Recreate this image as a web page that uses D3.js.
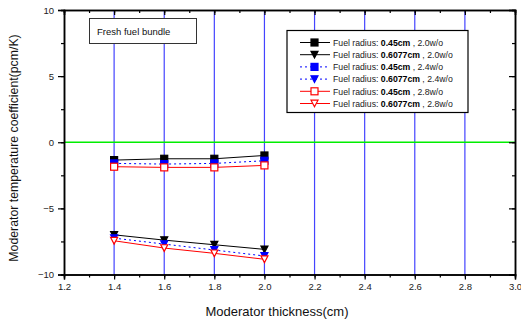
<!DOCTYPE html>
<html><head><meta charset="utf-8">
<script src="https://cdn.jsdelivr.net/npm/d3@7"></script>
<style>body{margin:0;background:#fff}svg{display:block}text{font-family:Arial,"Liberation Sans",sans-serif}</style>
</head><body><svg id="c" width="521" height="325"></svg>
<script>
const thickness = [1.4, 1.6, 1.8, 2.0];
const sq20 = [-1.35, -1.25, -1.25, -1.0];
const tri20 = [-7.0, -7.4, -7.75, -8.1];
const sq24 = [-1.6, -1.65, -1.6, -1.4];
const tri24 = [-7.25, -7.7, -8.15, -8.6];
const sq28 = [-1.85, -1.9, -1.9, -1.75];
const tri28 = [-7.45, -8.0, -8.4, -8.85];
const radii = ["0.45cm", "0.6077cm", "0.45cm", "0.6077cm", "0.45cm", "0.6077cm"];
const enrich = ["2.0w/o", "2.0w/o", "2.4w/o", "2.4w/o", "2.8w/o", "2.8w/o"];
const xTicks = [1.2, 1.4, 1.6, 1.8, 2.0, 2.2, 2.4, 2.6, 2.8, 3.0];
const yTicks = [-10, -5, 0, 5, 10];
const gridX = [1.4, 1.6, 1.8, 2.0, 2.2, 2.4, 2.6, 2.8];

const series = [
  {v: sq20, color: "#000", dash: null, shape: "sq", fill: "#000"},
  {v: tri20, color: "#000", dash: null, shape: "tri", fill: "#000"},
  {v: sq24, color: "#0000ff", dash: "2,3", shape: "sq", fill: "#0000ff"},
  {v: tri24, color: "#0000ff", dash: "2,3", shape: "tri", fill: "#0000ff"},
  {v: sq28, color: "#ff0000", dash: null, shape: "sq", fill: "#fff"},
  {v: tri28, color: "#ff0000", dash: null, shape: "tri", fill: "#fff"}
];

const svg = d3.select("#c");
const L = 64, R = 515, T = 10, B = 274.5;
const x = d3.scaleLinear().domain([1.2, 3.0]).range([L, R]);
const y = d3.scaleLinear().domain([-10, 10]).range([B, T]);

// grid
svg.append("g").selectAll("line").data(gridX).join("line")
  .attr("x1", d => x(d)).attr("x2", d => x(d)).attr("y1", T).attr("y2", B)
  .attr("stroke", "#4444ff").attr("stroke-width", 1.2);
svg.append("line").attr("x1", L).attr("x2", R).attr("y1", y(0)).attr("y2", y(0))
  .attr("stroke", "#00ee00").attr("stroke-width", 1.5);

// axes
const minorX = d3.range(12, 31).map(d => d / 10);
const minorY = d3.range(-10, 10.01, 2.5);
function ax(gen, tr) {
  const g = svg.append("g").attr("transform", tr).call(gen);
  g.selectAll("path.domain").attr("stroke", "#000").attr("stroke-width", 1.5);
  g.selectAll(".tick line").attr("stroke", "#000").attr("stroke-width", 1.2);
  g.selectAll("text").attr("font-size", 9.5).attr("fill", "#222");
  return g;
}
ax(d3.axisBottom(x).tickValues(minorX).tickSize(3).tickFormat(""), `translate(0,${B})`);
ax(d3.axisBottom(x).tickValues(xTicks).tickSize(5).tickPadding(4).tickFormat(d3.format(".1f")), `translate(0,${B})`);
ax(d3.axisTop(x).tickValues(minorX).tickSize(-3).tickFormat(""), `translate(0,${T})`);
ax(d3.axisTop(x).tickValues(xTicks).tickSize(-5).tickFormat(""), `translate(0,${T})`);
ax(d3.axisLeft(y).tickValues(minorY).tickSize(3).tickFormat(""), `translate(${L},0)`);
ax(d3.axisLeft(y).tickValues(yTicks).tickSize(6).tickPadding(4).tickFormat(d3.format("d")), `translate(${L},0)`);
ax(d3.axisRight(y).tickValues(minorY).tickSize(-3).tickFormat(""), `translate(${R},0)`);
ax(d3.axisRight(y).tickValues(yTicks).tickSize(-6).tickFormat(""), `translate(${R},0)`);

// titles
svg.append("text").attr("x", 277).attr("y", 316).attr("text-anchor", "middle")
  .attr("font-size", 13).attr("fill", "#111").text("Moderator thickness(cm)");
svg.append("text").attr("transform", `translate(18,148) rotate(-90)`).attr("text-anchor", "middle")
  .attr("font-size", 12.3).attr("fill", "#111").text("Moderator temperature coefficient(pcm/K)");

// markers
function marker(g, shape, cx, cy, color, fill, s) {
  if (shape === "sq") {
    g.append("rect").attr("x", cx - s / 2).attr("y", cy - s / 2).attr("width", s).attr("height", s)
      .attr("fill", fill).attr("stroke", color).attr("stroke-width", 1.2);
  } else {
    const h = s * 0.95;
    g.append("path").attr("d", `M${cx - s / 2},${cy - h / 2}L${cx + s / 2},${cy - h / 2}L${cx},${cy + h / 2}Z`)
      .attr("fill", fill).attr("stroke", color).attr("stroke-width", 1.2);
  }
}

const line = d3.line().x((d, i) => x(thickness[i])).y(d => y(d));
series.forEach(s => {
  svg.append("path").attr("d", line(s.v)).attr("fill", "none").attr("stroke", s.color)
    .attr("stroke-width", 1).attr("stroke-dasharray", s.dash);
});
series.forEach(s => {
  const g = svg.append("g");
  s.v.forEach((v, i) => marker(g, s.shape, x(thickness[i]), y(v), s.color, s.fill, 7));
});

// Fresh fuel bundle box
svg.append("rect").attr("x", 89.5).attr("y", 18.5).attr("width", 107).attr("height", 25)
  .attr("fill", "#fff").attr("stroke", "#333").attr("stroke-width", 1);
svg.append("text").attr("x", 97).attr("y", 34.5).attr("font-size", 9.5).attr("fill", "#111").text("Fresh fuel bundle");

// legend
svg.append("rect").attr("x", 287).attr("y", 30.5).attr("width", 181).attr("height", 82)
  .attr("fill", "#fff").attr("stroke", "#000").attr("stroke-width", 1.2);
const rowY = d3.scaleLinear().domain([0, 5]).range([42.5, 103.5]);
series.forEach((s, i) => {
  const yy = rowY(i);
  const g = svg.append("g");
  g.append("line").attr("x1", 300).attr("x2", 330).attr("y1", yy).attr("y2", yy)
    .attr("stroke", s.color).attr("stroke-width", 1).attr("stroke-dasharray", s.dash);
  marker(g, s.shape, 314.5, yy, s.color, s.fill, 7);
  const t = g.append("text").attr("x", 333).attr("y", yy + 3.3).attr("font-size", 8.7).attr("fill", "#222");
  t.append("tspan").text("Fuel radius: ");
  t.append("tspan").attr("font-weight", "bold").attr("fill", "#000").text(radii[i]);
  t.append("tspan").text(" , " + enrich[i]);
});
</script></body></html>
